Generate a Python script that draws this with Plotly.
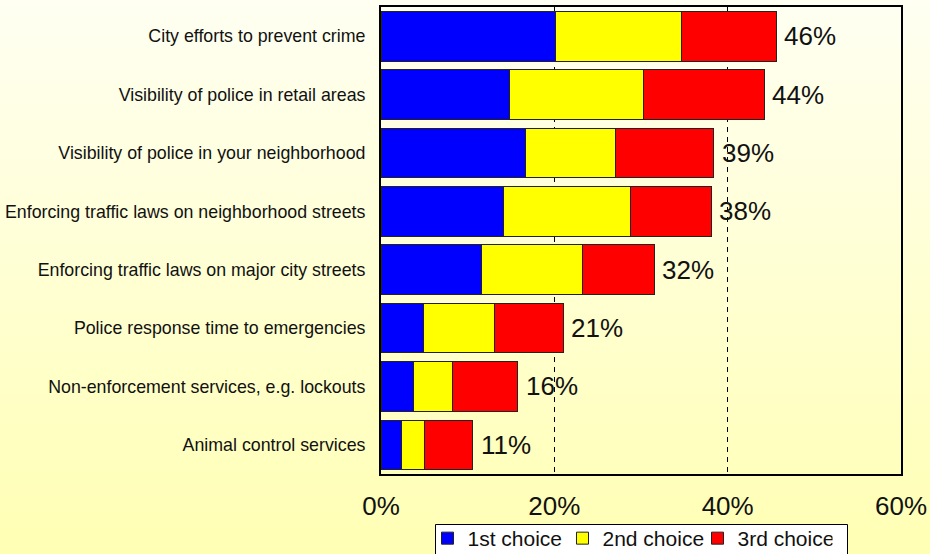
import plotly.graph_objects as go

categories = [
    "City efforts to prevent crime",
    "Visibility of police in retail areas",
    "Visibility of police in your neighborhood",
    "Enforcing traffic laws on neighborhood streets",
    "Enforcing traffic laws on major city streets",
    "Police response time to emergencies",
    "Non-enforcement services, e.g. lockouts",
    "Animal control services",
]
first_choice = [20.1, 14.8, 16.7, 14.1, 11.6, 4.9, 3.7, 2.4]
second_choice = [14.6, 15.5, 10.4, 14.7, 11.7, 8.2, 4.5, 2.6]
third_choice = [10.9, 13.9, 11.3, 9.3, 8.2, 7.9, 7.6, 5.6]
total_labels = ["46%", "44%", "39%", "38%", "32%", "21%", "16%", "11%"]
x_ticks = [0, 20, 40, 60]
x_ticklabels = ["0%", "20%", "40%", "60%"]

totals = [a + b + c for a, b, c in zip(first_choice, second_choice, third_choice)]

W, H = 930, 554
ML, MR, MT, MB = 381, 29, 7, 80
FONT = "Liberation Sans, Arial, sans-serif"

fig = go.Figure()
series = [
    ("1st choice", first_choice, "#0000FF"),
    ("2nd choice", second_choice, "#FFFF00"),
    ("3rd choice", third_choice, "#FF0000"),
]
for name, vals, col in series:
    fig.add_trace(go.Bar(
        y=categories, x=vals, name=name, orientation="h",
        marker=dict(color=col, line=dict(color="#222222", width=1)),
    ))

annotations = []
for cat, tot, lab in zip(categories, totals, total_labels):
    annotations.append(dict(
        x=tot, y=cat, xref="x", yref="y", text=lab, showarrow=False,
        xanchor="left", yanchor="middle", xshift=6,
        font=dict(size=26, color="#111111", family=FONT),
    ))

pw = W - ML - MR
ph = H - MT - MB


def px_x(p):
    return (p - ML) / pw


def px_y(p):
    return (H - MB - p) / ph


# vertical gradient background
nb = 111
shapes = []
top = (255, 255, 242)
bot = (255, 255, 180)
for i in range(nb):
    t = i / (nb - 1)
    c = tuple(round(top[k] + (bot[k] - top[k]) * t) for k in range(3))
    ya = px_y(i * H / nb)
    yb = px_y((i + 1) * H / nb + 1)
    shapes.append(dict(type="rect", xref="paper", yref="paper",
                       x0=px_x(0), x1=px_x(W), y0=yb, y1=ya,
                       fillcolor="rgb(%d,%d,%d)" % c, line=dict(width=0),
                       layer="below"))

# legend frame
shapes.append(dict(type="rect", xref="paper", yref="paper",
                   x0=px_x(435.5), x1=px_x(847.5), y0=px_y(570), y1=px_y(524.5),
                   fillcolor="#FFFFFF", line=dict(color="#000000", width=1),
                   layer="above"))

fig.update_layout(
    width=W, height=H,
    margin=dict(l=ML, r=MR, t=MT, b=MB, autoexpand=False),
    barmode="stack", bargap=0.15,
    paper_bgcolor="#FFFFD8", plot_bgcolor="#FFFFFF",
    shapes=shapes, annotations=annotations,
    font=dict(family=FONT, color="#111111"),
    legend=dict(orientation="h", x=px_x(630), xanchor="center", y=px_y(518),
                yanchor="top", bgcolor="rgba(0,0,0,0)", borderwidth=0,
                font=dict(size=21, family=FONT, color="#111111"),
                traceorder="normal", itemwidth=30,
                entrywidth=90, entrywidthmode="pixels"),
    showlegend=True,
)
fig.update_xaxes(
    range=[0, 60], tickvals=x_ticks, ticktext=x_ticklabels,
    showgrid=True, gridcolor="#000000", griddash="5px,5px", gridwidth=1,
    showline=True, linecolor="#000000", linewidth=2, mirror=True,
    zeroline=False, ticks="", tickfont=dict(size=26, family=FONT),
    ticklabelstandoff=8, automargin=False,
)
fig.update_yaxes(
    autorange="reversed", showline=True, linecolor="#000000", linewidth=2,
    mirror=True, ticks="", tickfont=dict(size=17.8, family=FONT, color="#111111"),
    ticklabelstandoff=10, automargin=False,
)

fig.write_html(
    "out.html",
    config={"displayModeBar": False},
    post_script="document.body.style.margin='0';document.body.style.overflow='hidden';",
)
